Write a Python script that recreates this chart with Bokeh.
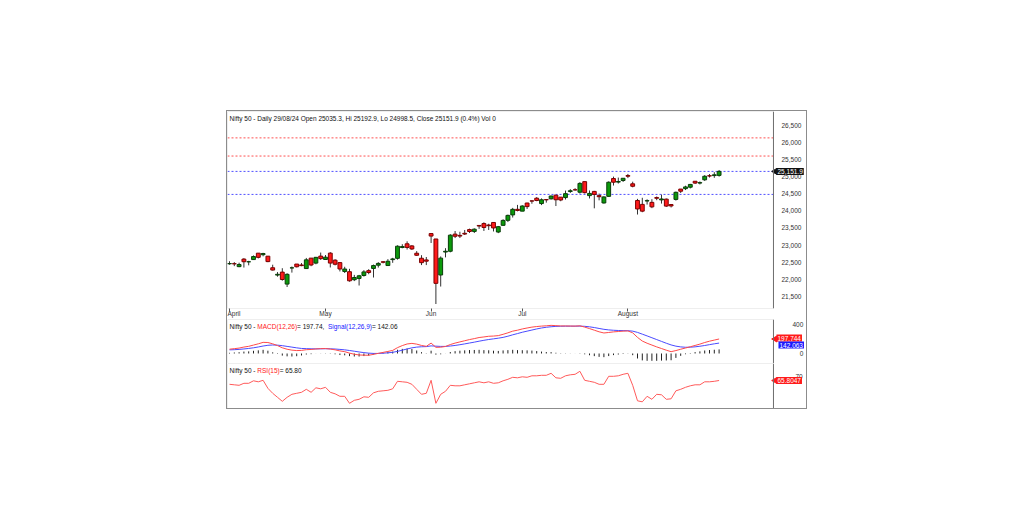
import math
from bokeh.plotting import figure
from bokeh.models import (ColumnDataSource, Span, Label, FixedTicker, NumeralTickFormatter, Range1d,
                          BoxAnnotation)
from bokeh.layouts import column
from bokeh.embed import file_html
from bokeh.resources import INLINE

# ---------------- data ----------------
dates = [
    "2024-04-01", "2024-04-02", "2024-04-03", "2024-04-04", "2024-04-05", "2024-04-08", "2024-04-09",
    "2024-04-10", "2024-04-12", "2024-04-15", "2024-04-16", "2024-04-18", "2024-04-19", "2024-04-22",
    "2024-04-23", "2024-04-24", "2024-04-25", "2024-04-26", "2024-04-29", "2024-04-30",
    "2024-05-02", "2024-05-03", "2024-05-06", "2024-05-07", "2024-05-08", "2024-05-09", "2024-05-10",
    "2024-05-13", "2024-05-14", "2024-05-15", "2024-05-16", "2024-05-17", "2024-05-18", "2024-05-21",
    "2024-05-22", "2024-05-23", "2024-05-24", "2024-05-27", "2024-05-28", "2024-05-29", "2024-05-30",
    "2024-05-31",
    "2024-06-03", "2024-06-04", "2024-06-05", "2024-06-06", "2024-06-07", "2024-06-10", "2024-06-11",
    "2024-06-12", "2024-06-13", "2024-06-14", "2024-06-18", "2024-06-19", "2024-06-20", "2024-06-21",
    "2024-06-24", "2024-06-25", "2024-06-26", "2024-06-27", "2024-06-28",
    "2024-07-01", "2024-07-02", "2024-07-03", "2024-07-04", "2024-07-05", "2024-07-08", "2024-07-09",
    "2024-07-10", "2024-07-11", "2024-07-12", "2024-07-15", "2024-07-16", "2024-07-18", "2024-07-19",
    "2024-07-22", "2024-07-23", "2024-07-24", "2024-07-25", "2024-07-26", "2024-07-29", "2024-07-30",
    "2024-07-31",
    "2024-08-01", "2024-08-02", "2024-08-05", "2024-08-06", "2024-08-07", "2024-08-08", "2024-08-09",
    "2024-08-12", "2024-08-13", "2024-08-14", "2024-08-16", "2024-08-19", "2024-08-20", "2024-08-21",
    "2024-08-22", "2024-08-23", "2024-08-26", "2024-08-27", "2024-08-28", "2024-08-29",
]
opens = [
    22455, 22458, 22372, 22592, 22514, 22578, 22765, 22720, 22677, 22339, 22125, 22212, 21862, 22336,
    22447, 22421, 22316, 22620, 22475, 22679,
    22580, 22766, 22561, 22489, 22231, 22224, 21990, 22027, 22113, 22255, 22319, 22415, 22512, 22404,
    22577, 22614, 22930, 23038, 22977, 22763, 22617, 22568,
    23337, 23179, 22128, 22798, 22821, 23320, 23284, 23345, 23453, 23400, 23574, 23629, 23587, 23661,
    23382, 23578, 23724, 23882, 24045,
    23992, 24228, 24291, 24369, 24213, 24329, 24351, 24459, 24400, 24388, 24566, 24615, 24544, 24853,
    24445, 24568, 24444, 24231, 24423, 24943, 24839, 24886,
    25030, 24789, 24303, 24189, 24289, 24248, 24387, 24320, 24342, 24184, 24334, 24636, 24648, 24690,
    24864, 24812, 24906, 25024, 25030, 25035.3,
]
highs = [
    22529, 22504, 22487, 22620, 22541, 22698, 22768, 22775, 22677, 22428, 22213, 22326, 22179, 22375,
    22447, 22476, 22626, 22620, 22655, 22783,
    22711, 22795, 22588, 22499, 22368, 22308, 22131, 22131, 22270, 22297, 22432, 22502, 22530, 22591,
    22629, 22993, 23026, 23111, 22998, 22825, 22706, 22653,
    23338, 23179, 22670, 22910, 23321, 23412, 23390, 23442, 23481, 23490, 23579, 23665, 23624, 23667,
    23559, 23754, 23889, 24087, 24174,
    24164, 24236, 24309, 24401, 24363, 24345, 24443, 24461, 24403, 24592, 24635, 24661, 24837, 24854,
    24595, 24582, 24504, 24426, 24861, 24999, 24971, 24956,
    25078, 24851, 24350, 24382, 24337, 24340, 24419, 24473, 24359, 24196, 24563, 24638, 24734, 24787,
    24867, 24858, 25043, 25074, 25129, 25192.9,
]
lows = [
    22428, 22386, 22355, 22345, 22410, 22569, 22612, 22673, 22503, 22259, 22079, 21962, 21777, 22198,
    22349, 22384, 22305, 22385, 22441, 22568,
    22567, 22348, 22409, 22232, 22186, 21933, 21950, 21821, 22081, 22151, 22054, 22345, 22468, 22404,
    22483, 22577, 22908, 22871, 22858, 22685, 22417, 22417,
    23062, 21281, 21791, 22642, 22789, 23206, 23207, 23295, 23354, 23353, 23474, 23413, 23442, 23398,
    23350, 23562, 23673, 23805, 23985,
    23992, 24056, 24207, 24281, 24168, 24240, 24331, 24141, 24281, 24331, 24523, 24587, 24504, 24508,
    24362, 24074, 24307, 24211, 24410, 24739, 24798, 24844,
    24956, 24687, 23893, 23960, 24184, 24079, 24311, 24212, 24116, 24099, 24300, 24522, 24607, 24654,
    24784, 24771, 24874, 24973, 24964, 24998.5,
]
closes = [
    22462, 22453, 22434, 22515, 22514, 22666, 22643, 22754, 22519, 22272, 22148, 21996, 22147, 22336,
    22368, 22402, 22570, 22420, 22643, 22605,
    22648, 22476, 22442, 22303, 22302, 21958, 22055, 22104, 22218, 22201, 22403, 22466, 22502, 22529,
    22597, 22968, 22957, 22932, 22888, 22704, 22488, 22531,
    23264, 21884, 22620, 22821, 23290, 23259, 23264, 23323, 23398, 23465, 23557, 23516, 23567, 23501,
    23538, 23721, 23868, 24044, 24011,
    24141, 24124, 24286, 24302, 24324, 24321, 24433, 24324, 24316, 24502, 24587, 24613, 24801, 24531,
    24509, 24479, 24413, 24406, 24835, 24836, 24857, 24951,
    25011, 24718, 24055, 23992, 24298, 24117, 24368, 24347, 24139, 24144, 24541, 24573, 24699, 24771,
    24811, 24823, 25010, 25018, 25052, 25151.9,
]
macd = [
    59, 66, 74, 88, 98, 115, 132, 152, 150, 132, 108, 78, 58, 46, 40, 42, 52, 55, 62, 66,
    68, 60, 50, 35, 25, 5, -10, -20, -23, -24, -12, 2, 15, 28, 42, 80, 108, 130, 138, 128, 110, 98,
    142, 84, 86, 96, 122, 142, 158, 174, 190, 203, 218, 226, 235, 238, 244, 262, 282, 305, 318,
    335, 348, 360, 368, 374, 378, 384, 380, 376, 376, 375, 374, 378, 360, 340, 318, 296, 280, 287,
    295, 300, 305,
    308, 282, 220, 170, 140, 115, 90, 68, 45, 25, 40, 58, 75, 92, 110, 128, 150, 168, 183, 197.74,
]
signal = [
    50, 52, 56, 62, 69, 78, 89, 102, 112, 116, 114, 107, 97, 87, 77, 69, 66, 64, 63, 64,
    65, 64, 61, 56, 50, 41, 31, 21, 12, 5, 1, 1, 4, 9, 16, 29, 45, 62, 77, 87, 92, 94,
    104, 100, 97, 97, 102, 110, 120, 131, 143, 155, 168, 180, 191, 200, 209, 220, 236, 255, 272,
    290, 305, 320, 335, 348, 358, 365, 370, 372, 373, 373, 373, 374, 371, 364, 354, 342, 330, 322,
    317, 314, 312,
    311, 305, 288, 264, 240, 215, 190, 165, 140, 117, 100, 90, 85, 86, 91, 99, 109, 121, 132, 142.06,
]
hist = [
    9, 14, 18, 26, 29, 37, 43, 50, 38, 16, -6, -29, -39, -41, -37, -27, -14, -9, -1, 2,
    3, -4, -11, -21, -25, -36, -41, -41, -35, -29, -13, 1, 11, 19, 26, 51, 63, 68, 61, 41, 18, 4,
    38, -16, -11, -1, 20, 32, 38, 43, 47, 48, 50, 46, 44, 38, 35, 42, 46, 50, 46,
    45, 43, 40, 33, 26, 20, 19, 10, 4, 3, 2, 1, 4, -11, -24, -36, -46, -50, -35,
    -22, -14, -7,
    -3, -23, -68, -94, -100, -100, -100, -97, -95, -92, -60, -32, -10, 6, 19, 29, 41, 47, 51, 55.68,
]
rsi = [
    62, 61.5, 61, 63, 63, 65.5, 64.5, 66, 58, 53, 49, 45, 49, 52, 53, 54, 57, 54, 58.5, 57.5,
    59, 54, 52.5, 50, 50, 43, 46, 47, 49.5, 49, 53.5, 55, 55.5, 56, 57.5, 65, 64.5, 64, 62, 57, 52, 53,
    66, 43, 52, 55, 61, 60.5, 60.5, 61.5, 62.5, 63.5, 64.5, 63.5, 64.5, 63, 63.5, 65.5, 67, 69, 68.5,
    69.5, 69, 70.5, 70.5, 71, 71, 73, 68.5, 68, 70.5, 71.5, 72, 75, 66, 65, 64, 62, 62, 70, 70,
    70.5, 72,
    73, 61, 45.5, 44.5, 50, 47, 52, 51.5, 47, 47.5, 55.5, 57, 59, 60.5, 61.5, 61.5, 64.5, 64.5, 65, 65.8,
]
month_names = ["April", "May", "Jun", "Jul", "August"]
red_levels = [26130, 25600]
blue_levels = [25151.9, 24480]
price_ticks = [21500, 22000, 22500, 23000, 23500, 24000, 24500, 25000, 25500, 26000, 26500]
macd_ticks = [0, 400]
rsi_ticks = [70]

# ---------------- styling / layout ----------------
FONT = "Liberation Sans"
FS = "6.5px"
FRAME_W = 578
SEP_X = 113.33            # x (bar units) of the vertical divider before the price scale
BORDER = "#8c8c8c"
GREEN, GREEN_LINE = "#0b9a0b", "#0a3d0a"
RED, RED_LINE = "#ff1a1a", "#7a0000"
MACD_COL, SIG_COL, RSI_COL = "#ff4a4a", "#4a4aff", "#ff5a5a"

# Arial advance widths (per 1000 em) for laying out coloured header pieces
AW = {" ": 278, "-": 333, "(": 333, ")": 333, ",": 278, ".": 278, "=": 584, "%": 889, "/": 278,
      "A": 667, "C": 722, "D": 722, "H": 722, "I": 278, "L": 556, "M": 833, "N": 722, "O": 778,
      "R": 722, "S": 667, "V": 667, "a": 556, "e": 556, "f": 278, "g": 556, "i": 222, "l": 222,
      "n": 556, "o": 556, "p": 556, "s": 500, "t": 278, "y": 500, "u": 556, "r": 333}


def text_w(s, size=6.5):
    return sum(AW.get(c, 556) for c in s) * size / 1000.0


n = len(dates)
xs = list(range(n))
x_range = Range1d(-0.417, 120.0)

src = ColumnDataSource(dict(
    x=xs, low=lows, high=highs,
    top=[max(o, c) for o, c in zip(opens, closes)],
    bottom=[min(o, c) for o, c in zip(opens, closes)],
    fill=[GREEN if c >= o else RED for o, c in zip(opens, closes)],
    edge=[GREEN_LINE if c >= o else RED_LINE for o, c in zip(opens, closes)],
    macd=macd, signal=signal, hist=hist, rsi=rsi, zero=[0] * n,
))


def base_fig(frame_h, y_range, standoff, mb_bottom=0, with_x=False):
    p = figure(frame_width=FRAME_W, frame_height=frame_h, x_range=x_range, y_range=y_range,
               y_axis_location="right", x_axis_location="below" if with_x else None,
               toolbar_location=None, output_backend="svg",
               min_border_left=0, min_border_right=0, min_border_top=0, min_border_bottom=mb_bottom)
    p.xgrid.visible = False
    p.ygrid.visible = False
    p.outline_line_color = None
    p.background_fill_color = "white"
    p.border_fill_color = "white"
    ax = p.yaxis[0]
    ax.major_tick_in = 0
    ax.major_tick_out = 0
    ax.minor_tick_line_color = None
    ax.axis_line_color = None
    ax.major_label_standoff = standoff
    ax.major_label_text_align = "left"
    ax.major_label_text_font = FONT
    ax.major_label_text_font_size = FS
    ax.major_label_text_color = "#333333"
    # outline of the chart area only (stops at the divider before the scale)
    p.add_layout(BoxAnnotation(right=SEP_X, fill_alpha=0, line_color=BORDER, line_width=1))
    p.add_layout(Span(location=SEP_X, dimension="height", line_color="#6f6f6f", line_width=1))
    return p


def header(p, frame_h, pieces):
    x = 2.0
    for txt, col in pieces:
        p.add_layout(Label(x=x, y=frame_h - 7, x_units="screen", y_units="screen", text=txt,
                           text_color=col, text_font=FONT, text_font_size=FS,
                           text_baseline="middle", text_align="left"))
        x += text_w(txt)


def value_box(p, yval, txt, bg, dy=0, dx=3, arrow=True):
    if arrow:
        p.scatter(x=[SEP_X + 0.35], y=[yval], marker="triangle", size=6, angle=math.pi / 2,
                  fill_color=bg, line_color=bg)
    p.add_layout(Label(x=SEP_X, y=yval, x_units="data", y_units="data", x_offset=dx, y_offset=dy,
                       text=txt, text_color="white", text_font=FONT, text_font_size=FS,
                       text_baseline="middle", text_align="left",
                       background_fill_color=bg, padding=1))


# ---------------- price panel ----------------
p1 = base_fig(197, Range1d(21150, 26900), standoff=-24, mb_bottom=9, with_x=True)
for lv in red_levels:
    p1.add_layout(Span(location=lv, dimension="width", line_color="#ff5050", line_dash="2 2",
                       line_width=1, level="underlay"))
for lv in blue_levels:
    p1.add_layout(Span(location=lv, dimension="width", line_color="#5050ff", line_dash="2 2",
                       line_width=1, level="underlay"))
p1.add_layout(BoxAnnotation(left=SEP_X, fill_color="white", fill_alpha=1.0, line_color=None,
                            level="underlay"))
p1.segment(x0="x", y0="low", x1="x", y1="high", line_color="#333333", line_width=1, source=src)
p1.vbar(x="x", width=0.8, top="top", bottom="bottom", fill_color="fill", line_color="edge",
        line_width=1, source=src)

p1.yaxis.ticker = FixedTicker(ticks=price_ticks)
p1.yaxis.formatter = NumeralTickFormatter(format="0,0")

month_idx = []
seen = set()
for i, d in enumerate(dates):
    m = d[:7]
    if m not in seen:
        seen.add(m)
        month_idx.append(i)
xa = p1.xaxis[0]
xa.ticker = FixedTicker(ticks=month_idx)
xa.major_label_overrides = {i: nm for i, nm in zip(month_idx, month_names)}
xa.major_label_text_align = "left"
xa.major_tick_in = 0
xa.major_tick_out = 3
xa.minor_tick_line_color = None
xa.major_tick_line_color = "#555555"
xa.axis_line_color = None
xa.major_label_standoff = -2
xa.major_label_text_font = FONT
xa.major_label_text_font_size = FS
xa.major_label_text_color = "#333333"

header(p1, 197, [("Nifty 50 - Daily 29/08/24 Open 25035.3, Hi 25192.9, Lo 24998.5, Close 25151.9 (0.4%) Vol 0", "#111111")])
value_box(p1, closes[-1], "25,151.9", "#111111")

# ---------------- MACD panel ----------------
p2 = base_fig(44, Range1d(-136.5, 464), standoff=-13)
p2.segment(x0="x", y0="zero", x1="x", y1="hist", line_color="#222222", line_width=1, source=src)
p2.line("x", "signal", line_color=SIG_COL, line_width=1, source=src)
p2.line("x", "macd", line_color=MACD_COL, line_width=1, source=src)
p2.yaxis.ticker = FixedTicker(ticks=macd_ticks)
p2.yaxis.major_label_overrides = {0: "\u2007\u20070"}
header(p2, 44, [("Nifty 50 - ", "#111111"), ("MACD(12,26)", "#ff2020"), (" = 197.74, ", "#111111"),
                ("Signal(12,26,9)", "#2020ff"), (" = 142.06", "#111111")])
value_box(p2, macd[-1], "197.744", "#ff1a1a", dy=1)
value_box(p2, signal[-1], "142.063", "#1a1aff", dy=-2, dx=5, arrow=False)

# ---------------- RSI panel ----------------
p3 = base_fig(45, Range1d(37.8, 82.8), standoff=-10)
p3.line("x", "rsi", line_color=RSI_COL, line_width=1, source=src)
p3.yaxis.ticker = FixedTicker(ticks=rsi_ticks)
header(p3, 45, [("Nifty 50 - ", "#111111"), ("RSI(15)", "#ff2020"), (" = 65.80", "#111111")])
value_box(p3, rsi[-1], "65.8047", "#ff1a1a")

layout = column(p1, p2, p3, spacing=0, margin=(110, 0, 0, 226),
                styles={"border": "1px solid " + BORDER})

open("out.html", "w").write(file_html(layout, INLINE))
